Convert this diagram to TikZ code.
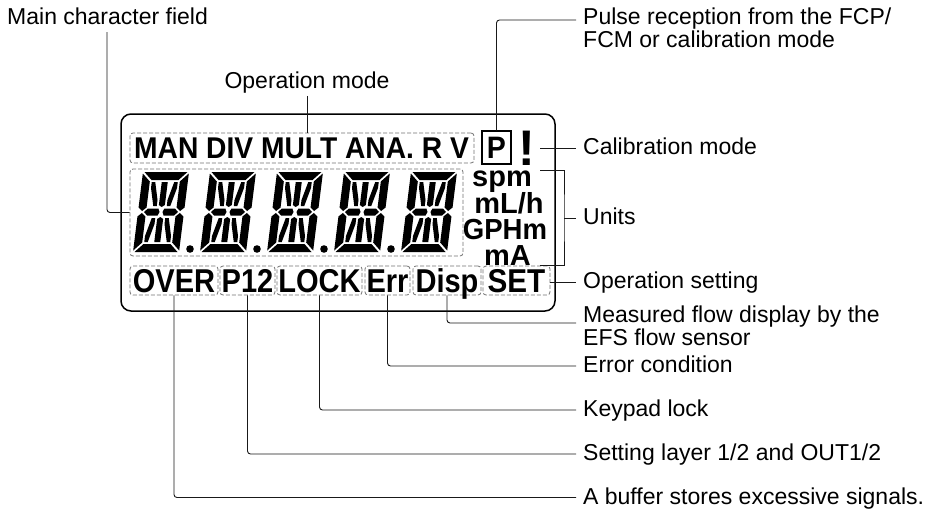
\documentclass[tikz,border=0pt]{standalone}
\usepackage{fontspec}
\setmainfont{Liberation Sans}
\newcommand\lcddigit{%
 \fill[black]
  (1.5,80)--(44.5,80)--(36.5,72)--(9.5,72)--cycle
  (0,78.5)--(8,70.5)--(8,44.5)--(4,41)--(0,44.5)--cycle
  (0,35.5)--(4,39)--(8,35.5)--(8,9.5)--(0,1.5)--cycle
  (1.5,0)--(9.5,8)--(36.5,8)--(44.5,0)--cycle
  (46,78.5)--(38,70.5)--(38,44.5)--(42,41)--(46,44.5)--cycle
  (46,35.5)--(42,39)--(38,35.5)--(38,9.5)--(46,1.5)--cycle
  (6,40)--(9.5,43.5)--(20,43.5)--(21.5,40)--(20,36.5)--(9.5,36.5)--cycle
  (40,40)--(36.5,43.5)--(26,43.5)--(24.5,40)--(26,36.5)--(36.5,36.5)--cycle
  (20,70)--(26,70)--(26,47)--(23,45)--(20,47)--cycle
  (20,10)--(26,10)--(26,33)--(23,35)--(20,33)--cycle
  (10,70)--(13.5,70)--(18,52)--(18,46)--(14.5,46)--(10,64)--cycle
  (36,70)--(32.5,70)--(28,52)--(28,46)--(31.5,46)--(36,64)--cycle
  (10,10)--(13.5,10)--(18,28)--(18,34)--(14.5,34)--(10,16)--cycle
  (36,10)--(32.5,10)--(28,28)--(28,34)--(31.5,34)--(36,16)--cycle;}
\newcommand\narrowtext[2]{\scalebox{#1}[1]{#2}}
\tikzset{
  lbl/.style={font=\fontsize{23}{23}\selectfont, inner sep=0pt, text=black},
  lbltwo/.style={lbl, align=left, anchor=north west},
  lblone/.style={lbl, anchor=west, text height=16.5pt, text depth=0pt},
  lcdbig/.style={font=\fontsize{33}{33}\selectfont\bfseries, inner sep=0pt},
  lcdbox/.style={lcdbig, dbox, text height=23.6pt, text depth=0pt, minimum height=29pt},
  dbox/.style={draw=black!55, dash pattern=on 4pt off 2pt, line width=0.8pt, rounded corners=3pt},
  lead/.style={draw=black!90, line width=0.9pt, rounded corners=3pt},
  unit/.style={font=\fontsize{29}{29}\selectfont\bfseries, inner sep=0pt, anchor=base},
  framebox/.style={draw=black, line width=1.5pt, rounded corners=10pt, inner sep=0pt},
}
\begin{document}
\begin{tikzpicture}[x=1pt,y=1pt]
\fill[white] (0,0) rectangle (951,-509);
\useasboundingbox (0,0) rectangle (951,-509);

% LCD frame
\node[framebox, minimum width=434pt, minimum height=197pt] (lcdframe) at (338,-212.5) {};

% operation mode row
\node[dbox, minimum width=344pt, minimum height=30pt, inner sep=0pt] (opmode) at (302,-148) {};
\node[font=\fontsize{30}{30}\selectfont\bfseries, inner sep=0pt, anchor=base west] (modes) at (134,-158)
  {\narrowtext{0.94}{MAN DIV MULT ANA. R V}};

% P box and !
\node[draw=black, line width=1.4pt, font=\fontsize{31}{31}\selectfont\bfseries, inner sep=0pt,
      minimum width=29pt, minimum height=33pt, text height=22pt, text depth=0pt] (pbox) at (496.5,-147.5) {\narrowtext{0.92}{P}};
\node[font=\fontsize{50}{50}\selectfont\bfseries, inner sep=0pt, anchor=base, text depth=0pt] (excl) at (527,-165) {!};

% main character field
\node[dbox, minimum width=333pt, minimum height=87pt, inner sep=0pt] (chars) at (296.5,-212.5) {};
\foreach \i in {0,...,4}{
  \begin{scope}[shift={(133+67*\i,-252)}, xslant=0.125]
    \lcddigit
  \end{scope}
}
\foreach \i in {0,...,3}{
  \fill (190+67*\i,-249) circle (3.8);
}

% units
\node[unit] (uspm) at (502,-186) {spm};
\node[unit] (umlh) at (509,-213) {mL/h};
\node[unit] (ugph) at (505,-239) {\narrowtext{0.95}{GPHm}};
\node[unit] (uma) at (507.5,-265) {mA};

% bottom row
\node[lcdbox, minimum width=88pt] (over) at (174,-280.5) {\narrowtext{0.88}{OVER}};
\node[lcdbox, minimum width=55pt] (p12) at (247.5,-280.5) {\narrowtext{0.88}{P12}};
\node[lcdbox, minimum width=85pt] (lock) at (319.5,-280.5) {\narrowtext{0.88}{LOCK}};
\node[lcdbox, minimum width=45pt] (err) at (387.5,-280.5) {\narrowtext{0.88}{Err}};
\node[lcdbox, minimum width=68pt] (disp) at (447,-280.5) {\narrowtext{0.88}{Disp}};
\node[lcdbox, minimum width=67pt] (set) at (516.5,-280.5) {\narrowtext{0.9}{SET}};

% labels
\node[lbl, anchor=base west] (lmain) at (7,-24) {Main character field};
\node[lbl, anchor=base] (lopmode) at (307,-88) {Operation mode};
\node[lbltwo] (lpulse) at (583,-7.5) {Pulse reception from the FCP/\\FCM or calibration mode};
\node[lblone] (lcal) at (583,-146.5) {Calibration mode};
\node[lblone] (lunits) at (583,-216.5) {Units};
\node[lblone] (lopset) at (583,-280.5) {Operation setting};
\node[lbltwo] (lmeas) at (583,-305.5) {Measured flow display by the\\EFS flow sensor};
\node[lblone] (lerr) at (583,-364.5) {Error condition};
\node[lblone] (llock) at (583,-408.5) {Keypad lock};
\node[lblone] (lset) at (583,-452.5) {Setting layer 1/2 and OUT1/2};
\node[lblone] (lover) at (583,-496) {A buffer stores excessive signals.};

% leader coordinates
\coordinate (cmain) at (107,-32);
\coordinate (cpulse) at (576,-20);
\coordinate (ccal) at (540,-148);
\coordinate (cut) at (540,-170);
\coordinate (cub) at (540,-265);
\coordinate (cum) at (564,-218);
\coordinate (cmeas) at (576,-323);

% leaders
\draw[lead] (cmain) |- (chars.west);
\draw[lead] ([yshift=-3pt]lopmode.south) -- (lopmode.south |- opmode.north);
\draw[lead] (pbox.north) |- (cpulse);
\draw[lead] (ccal) -- ([xshift=-7pt,yshift=-1.5pt]lcal.west);
\draw[lead, rounded corners=0pt] (cut) -| (cum) |- (cub);
\draw[lead] (cum) -- ([xshift=-7pt,yshift=-1.5pt]lunits.west);
\draw[lead] (set.east |- 0,-282) -- ([xshift=-7pt,yshift=-1.5pt]lopset.west);
\draw[lead] (disp.south) |- (cmeas);
\draw[lead] (err.south) |- ([xshift=-7pt,yshift=-1.5pt]lerr.west);
\draw[lead] (lock.south) |- ([xshift=-7pt,yshift=-1.5pt]llock.west);
\draw[lead] (p12.south) |- ([xshift=-7pt,yshift=-1.5pt]lset.west);
\draw[lead] (over.south) |- ([xshift=-7pt,yshift=-1.5pt]lover.west);
\end{tikzpicture}
\end{document}
